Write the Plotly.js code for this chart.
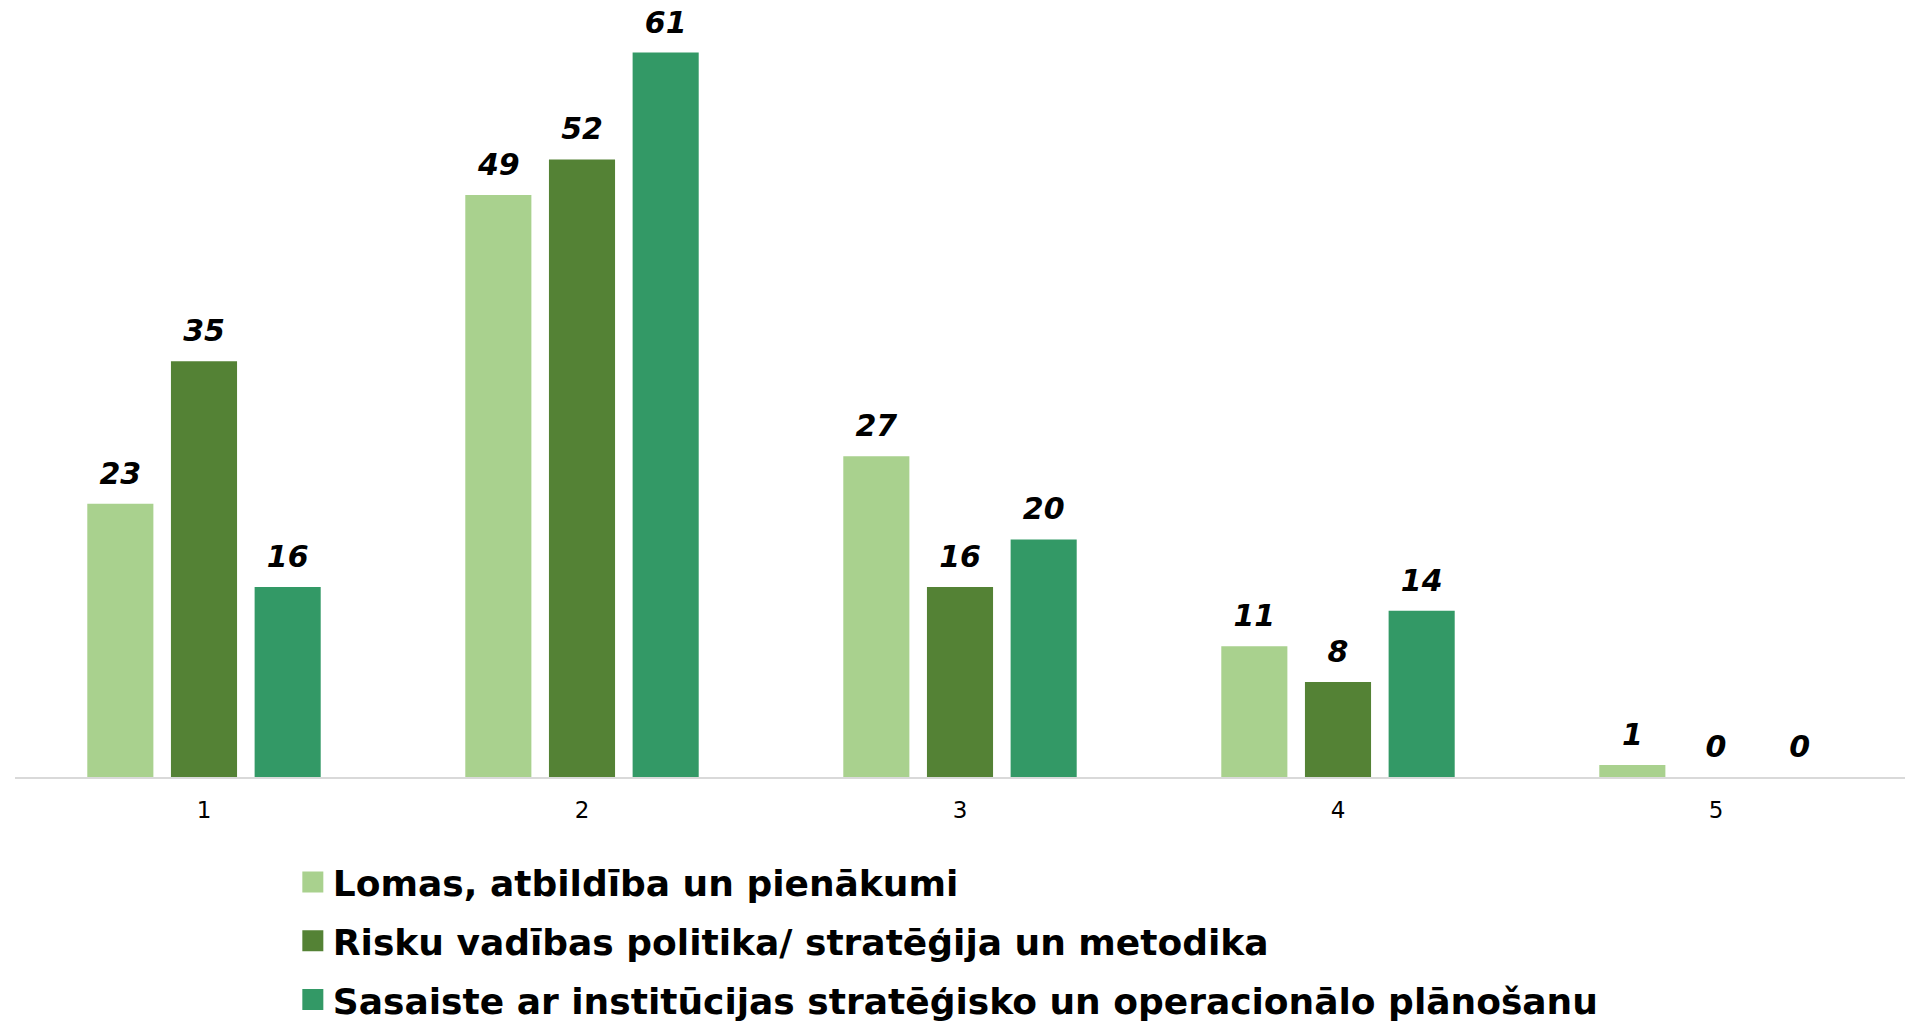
<!DOCTYPE html>
<html>
<head>
<meta charset="utf-8">
<script src="https://cdn.plot.ly/plotly-3.0.1.min.js"></script>
<style>html,body{margin:0;padding:0;background:#fff;}#chart{width:1913px;height:1026px;}</style>
</head>
<body>
<div id="chart"></div>
<script>
const categories = ["1", "2", "3", "4", "5"];
const seriesNames = [
  "Lomas, atbildība un pienākumi",
  "Risku vadības politika/ stratēģija un metodika",
  "Sasaiste ar institūcijas stratēģisko un operacionālo plānošanu"
];
const lomas = [23, 49, 27, 11, 1];
const risku = [35, 52, 16, 8, 0];
const sasaiste = [16, 61, 20, 14, 0];
const colors = ["#A9D18E", "#548235", "#339966"];

const values = [lomas, risku, sasaiste];
const traces = values.map((v, i) => ({
  type: "bar",
  x: categories,
  y: v,
  name: seriesNames[i],
  legendgroup: "g" + i,
  marker: {color: colors[i]},
  texttemplate: "%{y}",
  textposition: "outside",
  cliponaxis: false,
  constraintext: "none",
  textfont: {family: "DejaVu Sans", size: 30, color: "#000", weight: "bold", style: "italic"},
  hoverinfo: "skip"
}));

const layout = {
  width: 1913,
  height: 1026,
  margin: {l: 15, r: 8, t: 5, b: 249, autoexpand: false},
  paper_bgcolor: "#fff",
  plot_bgcolor: "#fff",
  barmode: "group",
  bargap: 0.336,
  bargroupgap: 0.21,
  font: {family: "DejaVu Sans", color: "#000"},
  xaxis: {
    type: "category",
    range: [-0.5, 4.5],
    showgrid: false,
    zeroline: false,
    showline: true,
    linecolor: "#D9D9D9",
    linewidth: 2,
    ticks: "",
    ticklabelstandoff: 11,
    tickfont: {family: "DejaVu Sans", size: 23, color: "#000"}
  },
  yaxis: {
    range: [0, 65],
    showgrid: false,
    zeroline: false,
    showline: false,
    showticklabels: false,
    ticks: ""
  },
  showlegend: true,
  legend: {
    orientation: "v",
    x: 0.147,
    xanchor: "left",
    yref: "container",
    y: 0,
    yanchor: "bottom",
    font: {family: "DejaVu Sans", size: 36, color: "#000", weight: "bold"},
    tracegroupgap: 9,
    itemwidth: 30,
    traceorder: "grouped"
  }
};

Plotly.newPlot("chart", traces, layout, {displayModeBar: false, staticPlot: true}).then(gd => {
  // lift the value labels a little above the bars, as in the reference
  gd.querySelectorAll("g.point text.bartext").forEach(t => {
    const tr = t.getAttribute("transform") || "";
    t.setAttribute("transform", "translate(0,-10) " + tr);
  });
  // larger legend swatches (21px squares), kept at their own centre
  const sw = gd.querySelectorAll("g.legendpoints path");
  sw.forEach(p => {
    const b = p.getBBox();
    const cx = b.x + b.width / 2, cy = b.y + b.height / 2, h = 10.5;
    p.setAttribute("d", `M${cx + h},${cy + h}H${cx - h}V${cy - h}H${cx + h}Z`);
  });
  // place the legend's first row near where the reference has it, keeping the last row inside the page
  const leg = gd.querySelector("g.legend");
  if (leg && sw.length) {
    const r = sw[0].getBoundingClientRect();
    const top = gd.getBoundingClientRect().top;
    const dy = 882 - ((r.top + r.bottom) / 2 - top);
    leg.setAttribute("transform", (leg.getAttribute("transform") || "") + ` translate(0,${dy})`);
  }
});
</script>
</body>
</html>
